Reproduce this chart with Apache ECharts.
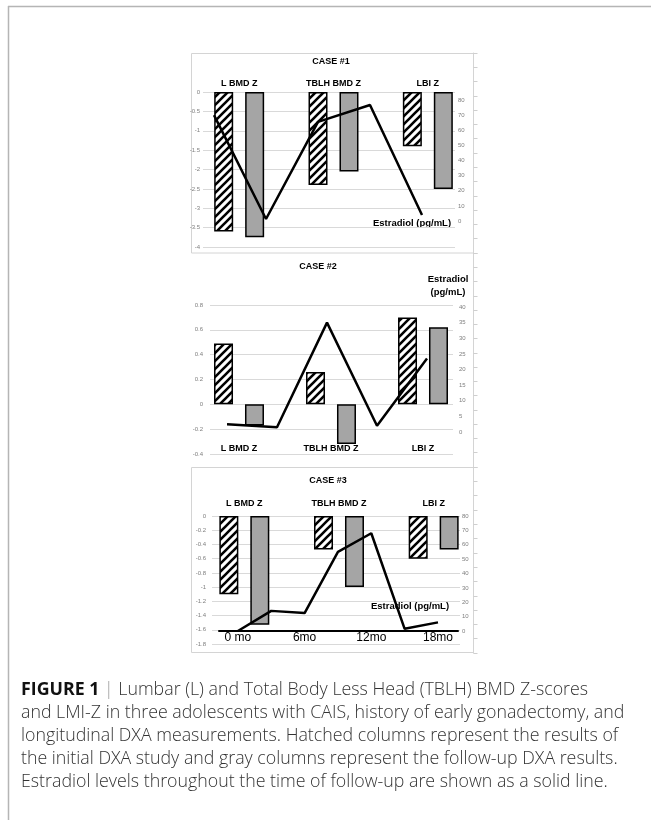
<!DOCTYPE html>
<html><head><meta charset="utf-8">
<script src="https://cdn.jsdelivr.net/npm/echarts@6.0.0/dist/echarts.min.js"></script>
<style>html,body{margin:0;padding:0;background:#fff;}#c{width:651px;height:820px;}</style>
</head><body><div id="c"></div>
<script>
// ---------- data ----------
const categories = ['L BMD Z', 'TBLH BMD Z', 'LBI Z'];
const case1Initial = [-3.6, -2.4, -1.4];
const case1Followup = [-3.75, -2.05, -2.5];
const case1Estradiol = [70, 1.3, 65.5, 76.7, 4];
const case2Initial = [0.49, 0.26, 0.70];
const case2Followup = [-0.17, -0.32, 0.62];
const case2Estradiol = [2.5, 1.5, 35, 2, 23.5];
const case3Initial = [-1.1, -0.47, -0.6];
const case3Followup = [-1.53, -1.0, -0.47];
const case3Months = [0, 3, 6, 9, 12, 15, 18];
const case3Estradiol = [0, 14, 12.5, 55, 68, 1.5, 6];
const monthTicks = [0, 6, 12, 18];
const monthLabels = ['0 mo', '6mo', '12mo', '18mo'];
const caseTitles = ['CASE #1', 'CASE #2', 'CASE #3'];
const estradiolName = 'Estradiol (pg/mL)';
const captionLines = [
  '{b|FIGURE 1} {s||} Lumbar (L) and Total Body Less Head (TBLH) BMD Z-scores',
  'and LMI-Z in three adolescents with CAIS, history of early gonadectomy, and',
  'longitudinal DXA measurements. Hatched columns represent the results of',
  'the initial DXA study and gray columns represent the follow-up DXA results.',
  'Estradiol levels throughout the time of follow-up are shown as a solid line.'
];

// ---------- styles ----------
const FONT = '"Liberation Sans", Arial, sans-serif';
const CAPFONT = '"Open Sans", "Liberation Sans", sans-serif';
const tickLabel = {fontSize: 6, color: '#7f7f7f', fontFamily: FONT};
const gridLine = {show: true, lineStyle: {color: '#d9d9d9', width: 1}};
function hatchCanvas() {
  const p = 8, c = document.createElement('canvas');
  c.width = p; c.height = p;
  const g = c.getContext('2d');
  g.fillStyle = '#fff'; g.fillRect(0, 0, p, p);
  g.strokeStyle = '#000'; g.lineWidth = 2.6;
  g.beginPath();
  for (const k of [-p, 0, p]) { g.moveTo(k - 1, p + 1); g.lineTo(k + p + 1, -1); }
  g.stroke();
  return c;
}
const hatch = {image: hatchCanvas(), repeat: 'repeat'};
const grayFill = '#a5a5a5';

const grids = [], xAxes = [], yAxes = [], series = [];

function addCase(c) {
  // grid with gridlines and left labels
  let gi = grids.length;
  grids.push({left: c.lab[0], top: c.top, width: c.lab[1], height: c.height});
  xAxes.push({gridIndex: gi, type: 'value', show: false, min: 0, max: 1});
  yAxes.push({gridIndex: gi, type: 'value', min: c.yMin, max: c.yMax, interval: c.yInt,
    axisLine: {show: false, onZero: false}, axisTick: {show: false}, splitLine: gridLine,
    axisLabel: Object.assign({}, tickLabel, {margin: c.leftMargin})});
  // bar grid
  gi = grids.length;
  grids.push({left: c.bar[0], top: c.top, width: c.bar[1], height: c.height});
  const xb = xAxes.length;
  xAxes.push({gridIndex: gi, type: 'category', data: categories, position: c.catPos,
    axisLine: {show: false, onZero: false}, axisTick: {show: false},
    axisLabel: {fontSize: 9, fontWeight: 'bold', color: '#000', fontFamily: FONT, margin: c.catMargin, interval: 0}});
  const yb = yAxes.length;
  yAxes.push({gridIndex: gi, type: 'value', min: c.yMin, max: c.yMax, show: false});
  series.push({type: 'bar', xAxisIndex: xb, yAxisIndex: yb, data: c.initial, barWidth: 19, barGap: '63%',
    itemStyle: {color: hatch, borderColor: '#000', borderWidth: 1.5}, z: 2});
  series.push({type: 'bar', xAxisIndex: xb, yAxisIndex: yb, data: c.followup, barWidth: 19, barGap: '63%',
    itemStyle: {color: grayFill, borderColor: '#000', borderWidth: 1.5}, z: 2});
  // line grid
  gi = grids.length;
  grids.push({left: c.line[0], width: c.line[1], top: c.line[2], height: c.line[3]});
  const xl = xAxes.length;
  xAxes.push(c.lineX(gi));
  const yl = yAxes.length;
  yAxes.push({gridIndex: gi, type: 'value', position: 'right', offset: c.rOffset, min: 0, max: c.eMax, interval: c.eInt,
    axisLine: {show: false, onZero: false}, axisTick: {show: false}, splitLine: {show: false},
    axisLabel: Object.assign({}, tickLabel, {margin: 3})});
  series.push({type: 'line', xAxisIndex: xl, yAxisIndex: yl, data: c.estr, symbol: 'none',
    lineStyle: {color: '#000', width: 2.5}, z: 3});
  // right frame with small ticks
  gi = grids.length;
  grids.push({left: 191, width: 282.5, top: c.frame[0], height: c.frame[1]});
  xAxes.push({gridIndex: gi, type: 'value', show: false, min: 0, max: 1});
  yAxes.push({gridIndex: gi, type: 'value', position: 'right', min: 0, max: c.frame[2], interval: 1,
    axisLine: {show: true, onZero: false, lineStyle: {color: '#d4d4d4', width: 1}},
    axisTick: {show: true, length: 4, lineStyle: {color: '#cfcfcf'}},
    axisLabel: {show: false}, splitLine: {show: false}});
}

function catLine(data) {
  return function (gi) {
    return {gridIndex: gi, type: 'category', boundaryGap: false, show: false,
      data: data.map((_, i) => i)};
  };
}

addCase({top: 92, height: 155, lab: [203, 252], bar: [192, 283], yMin: -4, yMax: 0, yInt: 0.5, leftMargin: 3,
  catPos: 'top', catMargin: 4, initial: case1Initial, followup: case1Followup,
  line: [214, 208, 100, 121], lineX: catLine(case1Estradiol), estr: case1Estradiol, eMax: 80, eInt: 10, rOffset: 33,
  frame: [53, 200, 14]});
addCase({top: 305, height: 149, lab: [210, 243], bar: [193, 276], yMin: -0.4, yMax: 0.8, yInt: 0.2, leftMargin: 7,
  catPos: 'bottom', catMargin: -10, initial: case2Initial, followup: case2Followup,
  line: [227, 200, 307, 125], lineX: catLine(case2Estradiol), estr: case2Estradiol, eMax: 40, eInt: 5, rOffset: 29,
  frame: [253, 214, 15]});
addCase({top: 516, height: 128, lab: [212, 248], bar: [197, 284], yMin: -1.8, yMax: 0, yInt: 0.2, leftMargin: 6,
  catPos: 'top', catMargin: 8, initial: case3Initial, followup: case3Followup,
  line: [219, 239, 516, 115],
  lineX: function (gi) {
    return {gridIndex: gi, type: 'value', min: -1.7, max: 19.8, position: 'bottom',
      axisLine: {show: true, onZero: false, lineStyle: {color: '#000', width: 2}},
      axisTick: {show: false}, splitLine: {show: false},
      axisLabel: {customValues: monthTicks, margin: 1, fontSize: 12, color: '#000', fontFamily: FONT,
        formatter: v => monthLabels[monthTicks.indexOf(v)] || ''}};
  },
  estr: case3Months.map((m, i) => [m, case3Estradiol[i]]), eMax: 80, eInt: 10, rOffset: 1,
  frame: [467, 186, 13]});

function txt(x, y, s, size) {
  return {type: 'text', x: x, y: y, silent: true,
    style: {text: s, font: 'bold ' + size + 'px ' + FONT, fill: '#000',
      textAlign: 'center', align: 'center', textVerticalAlign: 'middle', verticalAlign: 'middle'}};
}

const graphic = [
  {type: 'line', shape: {x1: 8, y1: 6.5, x2: 651, y2: 6.5}, style: {stroke: '#b5b5b5', lineWidth: 1.5}},
  {type: 'line', shape: {x1: 8.5, y1: 6, x2: 8.5, y2: 820}, style: {stroke: '#b5b5b5', lineWidth: 1.5}},
  {type: 'rect', shape: {x: 191.5, y: 53.5, width: 282, height: 199.5}, style: {fill: 'none', stroke: '#d4d4d4', lineWidth: 1}},
  {type: 'polyline', shape: {points: [[473.5, 467.5], [191.5, 467.5], [191.5, 652.5], [473.5, 652.5]]},
    style: {fill: 'none', stroke: '#d4d4d4', lineWidth: 1}},
  txt(331, 62, caseTitles[0], 9),
  txt(318, 267, caseTitles[1], 9),
  txt(328, 481, caseTitles[2], 9),
  txt(412, 223, estradiolName, 9.5),
  txt(448, 279, 'Estradiol', 9.5),
  txt(448, 292, '(pg/mL)', 9.5),
  txt(410, 606, estradiolName, 9.5)
];

const option = {
  animation: false,
  backgroundColor: '#fff',
  title: {
    text: captionLines.join('\n'), left: 21, top: 679, padding: 0,
    textStyle: {fontFamily: CAPFONT, fontSize: 17.8, fontWeight: 300, color: '#333', lineHeight: 22.8,
      rich: {b: {fontFamily: CAPFONT, fontSize: 17.8, fontWeight: 'bold', color: '#111', lineHeight: 22.8},
             s: {fontFamily: CAPFONT, fontSize: 17.8, fontWeight: 300, color: '#999', lineHeight: 22.8}}}
  },
  grid: grids, xAxis: xAxes, yAxis: yAxes, series: series, graphic: graphic
};
const chart = echarts.init(document.getElementById('c'));
chart.setOption(option);
</script></body></html>
